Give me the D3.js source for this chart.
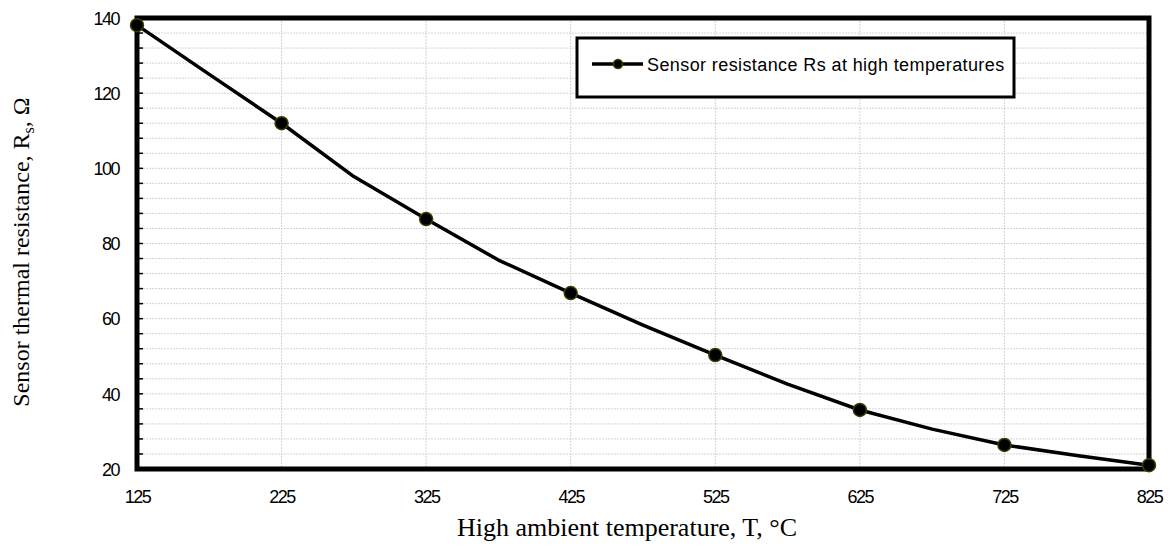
<!DOCTYPE html>
<html>
<head>
<meta charset="utf-8">
<script src="https://cdn.jsdelivr.net/npm/d3@7"></script>
<style>
  body { margin: 0; background: #fff; }
  .tick text { font-family: "Liberation Sans", Arial, sans-serif; font-size: 18px; letter-spacing: -1.5px; fill: #000; }
</style>
</head>
<body>
<div id="chart"></div>
<script>
(function(){

    // temperatures in degC, resistance in ohm
    var temperatures = [125, 175, 225, 275, 325, 375, 425, 475, 525, 575, 625, 675, 725, 775, 825];
    var resistance = [138.1, 125.0, 112.0, 97.8, 86.5, 75.6, 66.8, 58.3, 50.3, 42.6, 35.7, 30.6, 26.4, 23.6, 21.0];
    var markerTemps = [125, 225, 325, 425, 525, 625, 725, 825];
    var xTicks = [125, 225, 325, 425, 525, 625, 725, 825];
    var yTicks = [20, 40, 60, 80, 100, 120, 140];
    var yMinor = d3.range(20, 141, 4);
    var seriesName = "Sensor resistance Rs at high temperatures";

    var width = 1172;
    var height = 554;
    var left = 137, right = 1149, top = 18, bottom = 469;

    var data = temperatures.map(function(t, i){ return {t: t, r: resistance[i]}; });

    var svg = d3.select("#chart")
      .append("svg")
      .attr("width", width)
      .attr("height", height);

    var x = d3.scaleLinear().domain([125, 825]).range([left, right]);
    var y = d3.scaleLinear().domain([20, 140]).range([bottom, top]);

    // grid
    svg.append("g").selectAll("line")
      .data(yMinor)
      .enter().append("line")
      .attr("x1", left).attr("x2", right)
      .attr("y1", function(d){ return y(d); })
      .attr("y2", function(d){ return y(d); })
      .attr("stroke", "#d4d4d4")
      .attr("stroke-width", 1)
      .attr("stroke-dasharray", "2,1");

    svg.append("g").selectAll("line")
      .data(xTicks)
      .enter().append("line")
      .attr("y1", top).attr("y2", bottom)
      .attr("x1", function(d){ return x(d); })
      .attr("x2", function(d){ return x(d); })
      .attr("stroke", "#d4d4d4")
      .attr("stroke-width", 1)
      .attr("stroke-dasharray", "2,1");

    // minor ticks on left edge
    svg.append("g").selectAll("line")
      .data(yMinor)
      .enter().append("line")
      .attr("x1", left).attr("x2", left + 6)
      .attr("y1", function(d){ return y(d); })
      .attr("y2", function(d){ return y(d); })
      .attr("stroke", "#000")
      .attr("stroke-width", 1.5);

    // axes (labels only)
    var yAxis = svg.append("g")
      .attr("transform", "translate(" + left + ",0)")
      .call(d3.axisLeft(y).tickValues(yTicks).tickSize(0).tickPadding(18));
    yAxis.select(".domain").remove();
    yAxis.selectAll("text").attr("dy", "0.35em");

    var xAxis = svg.append("g")
      .attr("transform", "translate(0," + bottom + ")")
      .call(d3.axisBottom(x).tickValues(xTicks).tickSize(0).tickPadding(21).tickFormat(d3.format("d")));
    xAxis.select(".domain").remove();

    // plot border
    svg.append("rect")
      .attr("x", left).attr("y", top)
      .attr("width", right - left).attr("height", bottom - top)
      .attr("fill", "none")
      .attr("stroke", "#000")
      .attr("stroke-width", 5);

    // series line
    var line = d3.line()
      .x(function(d){ return x(d.t); })
      .y(function(d){ return y(d.r); });

    svg.append("path")
      .datum(data)
      .attr("d", line)
      .attr("fill", "none")
      .attr("stroke", "#000")
      .attr("stroke-width", 3.5)
      .attr("stroke-linejoin", "round");

    svg.append("g").selectAll("circle")
      .data(data.filter(function(d){ return markerTemps.indexOf(d.t) >= 0; }))
      .enter().append("circle")
      .attr("cx", function(d){ return x(d.t); })
      .attr("cy", function(d){ return y(d.r); })
      .attr("r", 6.5)
      .attr("fill", "#000")
      .attr("stroke", "#3d3d00")
      .attr("stroke-width", 1.5);

    // legend
    var legend = svg.append("g");
    legend.append("rect")
      .attr("x", 577).attr("y", 38)
      .attr("width", 437).attr("height", 59)
      .attr("fill", "#fff")
      .attr("stroke", "#000")
      .attr("stroke-width", 3);
    legend.append("line")
      .attr("x1", 592).attr("x2", 643)
      .attr("y1", 64).attr("y2", 64)
      .attr("stroke", "#000")
      .attr("stroke-width", 3.5);
    legend.append("circle")
      .attr("cx", 618).attr("cy", 64)
      .attr("r", 4.5)
      .attr("fill", "#000")
      .attr("stroke", "#3d3d00")
      .attr("stroke-width", 1.5);
    legend.append("text")
      .attr("x", 647).attr("y", 71)
      .style("font-family", "'Liberation Sans', Arial, sans-serif")
      .style("font-size", "18px")
      .style("letter-spacing", "0.4px")
      .attr("fill", "#000")
      .text(seriesName);

    // axis titles
    svg.append("text")
      .attr("x", 627).attr("y", 536)
      .attr("text-anchor", "middle")
      .style("font-family", "'Liberation Serif', 'Times New Roman', serif")
      .style("font-size", "26px")
      .text("High ambient temperature, T, \u00B0C");

    var yTitle = svg.append("text")
      .attr("transform", "translate(29,252) rotate(-90)")
      .attr("text-anchor", "middle")
      .style("font-family", "'Liberation Serif', 'Times New Roman', serif")
      .style("font-size", "24px");
    yTitle.append("tspan").text("Sensor thermal resistance, R");
    yTitle.append("tspan").attr("dy", 5).style("font-size", "16px").text("s");
    yTitle.append("tspan").attr("dy", -5).text(", \u03A9");

})();
</script>
</body>
</html>
